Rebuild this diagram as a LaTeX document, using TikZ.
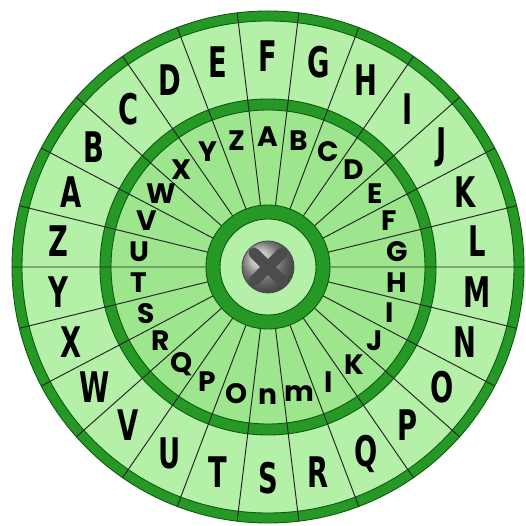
\documentclass[tikz,border=0pt]{standalone}
\usepackage{fontspec}
\usepackage{graphicx}
\newfontfamily\ringfont{DejaVu Sans Condensed}
\newfontfamily\discfont{Poppins}
\definecolor{paleleaf}{RGB}{180,240,168}
\definecolor{midleaf}{RGB}{158,230,142}
\definecolor{bandgreen}{RGB}{38,152,38}
\definecolor{edgegreen}{RGB}{12,90,12}
\newcommand\narrowch[1]{\scalebox{0.72}[1]{#1}}
\tikzset{
  band/.style={fill=bandgreen, draw=edgegreen, line width=0.5pt, even odd rule},
  spoke/.style={draw=black!85, line width=0.55pt},
  outerletter/.style={font=\ringfont\bfseries\fontsize{24}{24}\selectfont, inner sep=0pt},
  innerletter/.style={font=\discfont\bfseries\fontsize{16}{16}\selectfont, inner sep=0pt}
}
\begin{document}
\begin{tikzpicture}[x=0.02cm, y=0.02cm]
\useasboundingbox (-268,-259) rectangle (258,267);
%% --- discs and rings ---
\fill[paleleaf] (0,0) circle (256);
\path[band] (0,0) circle (256) circle (246);
\fill[midleaf] (0,0) circle (157);
\path[band] (0,0) circle (168) circle (157);
\foreach \k in {0,...,25}
  \draw[spoke] ({96.923-\k*13.846}:62) -- ({96.923-\k*13.846}:256);
\fill[paleleaf] (0,0) circle (48);
\path[band] (0,0) circle (62) circle (48);
%% --- screw ---
\shade[ball color=gray!70] (0,0) circle (26);
\draw[black!70, line width=0.5pt] (0,0) circle (26);
\draw[black!70, line width=0.22cm, line cap=round] (-14,14) -- (14,-14);
\draw[black!70, line width=0.22cm, line cap=round] (-14,-14) -- (14,14);
%% --- letters ---
\foreach \ch [count=\i from 0] in {A,...,Z}
  \node[outerletter] (out\ch) at ({159.231-\i*13.846}:211) {\narrowch{\ch}};
\foreach \ch [count=\i from 0] in {A,B,C,D,E,F,G,H,I,J,K,l,m,n,O,P,Q,R,S,T,U,V,W,X,Y,Z}
  \node[innerletter] (in\i) at ({90-\i*13.846}:130) {\ch};
\end{tikzpicture}
\end{document}
